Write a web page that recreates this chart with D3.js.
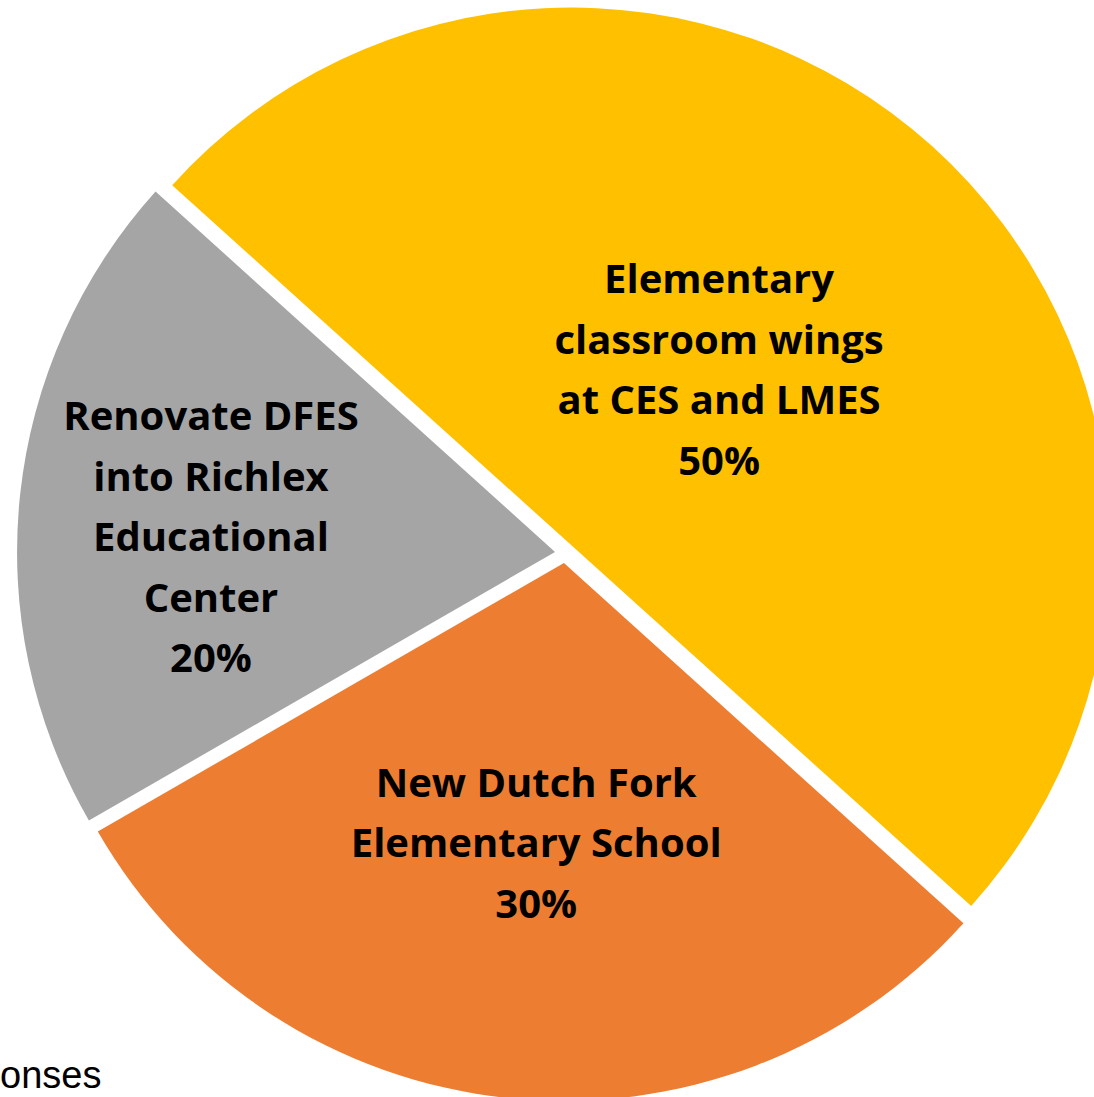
<!DOCTYPE html>
<html>
<head>
<meta charset="utf-8">
<script src="https://cdn.jsdelivr.net/npm/d3@7"></script>
<style>
  html, body { margin: 0; padding: 0; background: #ffffff; }
  svg { display: block; }
  text { font-variant-ligatures: none; }
</style>
</head>
<body>
<div id="chart"></div>
<script>
// ---- data ----
const categories = [
  "Elementary\nclassroom wings\nat CES and LMES",
  "New Dutch Fork\nElementary School",
  "Renovate DFES\ninto Richlex\nEducational\nCenter"
];
const values = [50, 30, 20];
const colors = ["#FFC000", "#ED7D31", "#A5A5A5"];
const footnote = "onses";

// ---- layout ----
const W = 1094, H = 1097;
const cx = 565, cy = 553, R = 538;
const explode = 10;
const startDeg = -47.95;
const labelRadius = [220, 292, 346];
const labelShift = [[0, -12], [3, -10], [0, 22]];
const fontSize = 40, lineH = 60.5;

const svg = d3.select("#chart").append("svg")
  .attr("width", W).attr("height", H);

const pie = d3.pie().sort(null)
  .startAngle(startDeg * Math.PI / 180)
  .endAngle((startDeg + 360) * Math.PI / 180);
const arcs = pie(values);
const arc = d3.arc().innerRadius(0).outerRadius(R);

const g = svg.append("g").attr("transform", `translate(${cx},${cy})`);

const slices = g.selectAll("g.slice").data(arcs).enter().append("g")
  .attr("class", "slice")
  .attr("transform", d => {
    const a = (d.startAngle + d.endAngle) / 2;
    return `translate(${Math.sin(a) * explode},${-Math.cos(a) * explode})`;
  });

slices.append("path")
  .attr("d", arc)
  .attr("fill", (d, i) => colors[i]);

slices.each(function(d, i) {
  const la = d3.arc().innerRadius(labelRadius[i]).outerRadius(labelRadius[i]);
  const [x, y] = la.centroid(d);
  const lines = categories[i].split("\n").concat([values[i] + "%"]);
  const n = lines.length;
  const t = d3.select(this).append("text")
    .attr("text-anchor", "middle")
    .attr("font-family", "'Open Sans', Lato, sans-serif")
    .attr("font-weight", "bold")
    .attr("font-size", fontSize)
    .attr("fill", "#000");
  lines.forEach((ln, k) => {
    t.append("tspan")
      .attr("x", x + labelShift[i][0])
      .attr("y", y + labelShift[i][1] + (k - (n - 1) / 2) * lineH + fontSize * 0.35)
      .text(ln);
  });
});

svg.append("text")
  .attr("x", 0).attr("y", 1088)
  .attr("text-anchor", "start")
  .attr("font-family", "'Liberation Sans', Arial, sans-serif")
  .attr("font-size", 38)
  .attr("fill", "#000")
  .text(footnote);
</script>
</body>
</html>
